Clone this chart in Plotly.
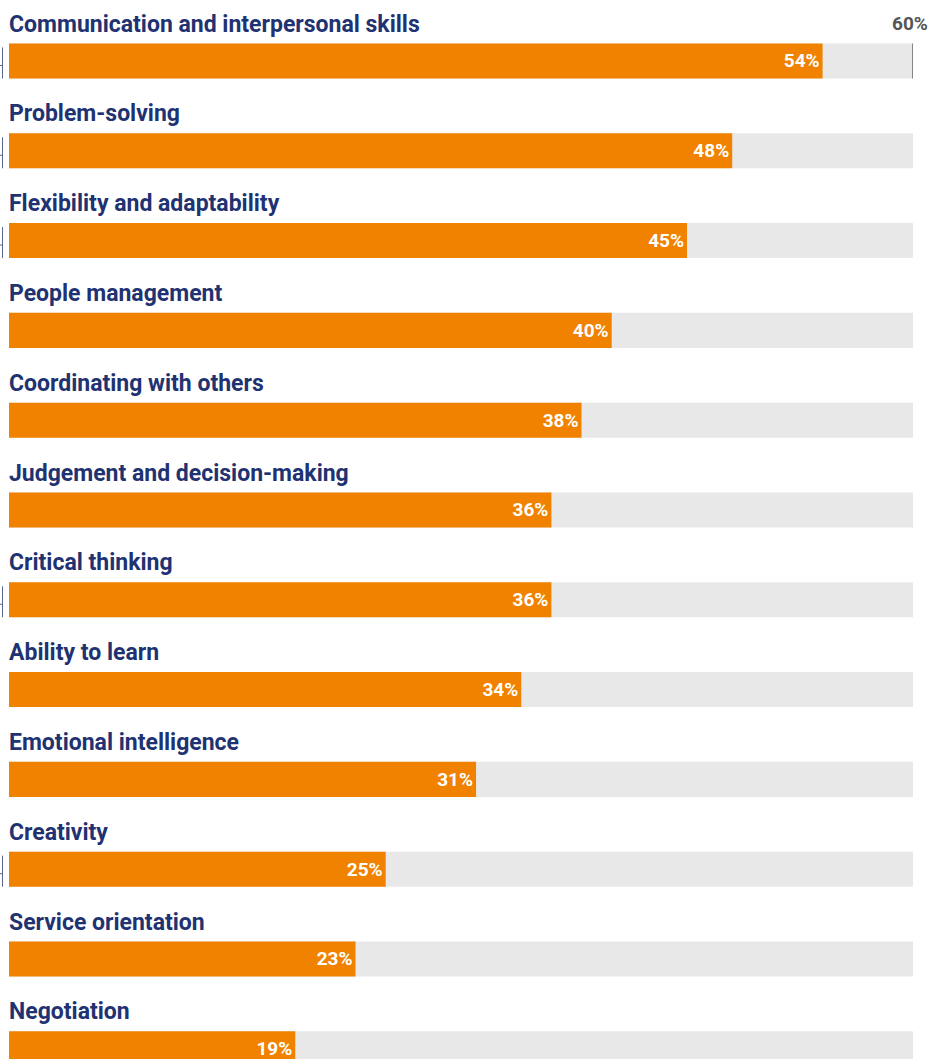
import plotly.graph_objects as go

categories = [
    "Communication and interpersonal skills",
    "Problem-solving",
    "Flexibility and adaptability",
    "People management",
    "Coordinating with others",
    "Judgement and decision-making",
    "Critical thinking",
    "Ability to learn",
    "Emotional intelligence",
    "Creativity",
    "Service orientation",
    "Negotiation",
]
values = [54, 48, 45, 40, 38, 36, 36, 34, 31, 25, 23, 19]
axis_max = 60
max_label = "60%"
tick_marks_on = [0, 1, 2, 6, 9]

ORANGE = "#F08200"
GREY = "#E8E8E8"
NAVY = "#1F3271"
FONT = "Roboto"

idx = list(range(len(categories)))
BAR_W = 0.39

fig = go.Figure()
fig.add_trace(go.Bar(
    x=[axis_max] * len(idx), y=idx, orientation="h",
    marker=dict(color=GREY, line=dict(width=0)), width=BAR_W,
    hoverinfo="skip", showlegend=False,
))
fig.add_trace(go.Bar(
    x=values, y=idx, orientation="h",
    marker=dict(color=ORANGE, line=dict(width=0)), width=BAR_W,
    text=[f"<b>{v}%</b>" for v in values],
    textposition="inside", insidetextanchor="end",
    textfont=dict(family=FONT, size=19, color="white"),
    hoverinfo="skip", showlegend=False,
))

annotations = []
for i, c in zip(idx, categories):
    annotations.append(dict(
        x=0, y=i - 0.41, xref="x", yref="y", text=f"<b>{c}</b>",
        showarrow=False, xanchor="left", yanchor="middle", xshift=-2,
        font=dict(family=FONT, size=23, color=NAVY),
    ))
annotations.append(dict(
    x=axis_max, y=-0.42, xref="x", yref="y", text=f"<b>{max_label}</b>",
    showarrow=False, xanchor="center", yanchor="middle", xshift=-3,
    font=dict(family=FONT, size=19, color="#555555"),
))

shapes = [dict(type="line", xref="x", yref="y", x0=axis_max, x1=axis_max,
               y0=-BAR_W / 2, y1=BAR_W / 2, line=dict(color="#666666", width=1.5))]
px_per_unit = 89.8
for i in tick_marks_on:
    shapes.append(dict(type="line", xref="paper", yref="y",
                       x0=-6.5 / 904, x1=-6.5 / 904,
                       y0=i - BAR_W / 2 + 4 / px_per_unit, y1=i + BAR_W / 2,
                       line=dict(color="#5B6391", width=1)))
    shapes.append(dict(type="line", xref="paper", yref="y",
                       x0=-9 / 904, x1=-6 / 904, y0=i + 0.05, y1=i + 0.05,
                       line=dict(color="#5B6391", width=1)))

fig.update_layout(
    width=931, height=1059,
    margin=dict(l=9, r=18, t=0, b=0),
    barmode="overlay",
    plot_bgcolor="white", paper_bgcolor="white",
    xaxis=dict(range=[0, axis_max], visible=False, fixedrange=True),
    yaxis=dict(range=[11.114, -0.679], visible=False, fixedrange=True),
    annotations=annotations, shapes=shapes,
    showlegend=False,
)

fig.write_html(
    "out.html",
    config={"displayModeBar": False},
    post_script="document.body.style.margin='0';document.body.style.overflow='hidden';",
)
